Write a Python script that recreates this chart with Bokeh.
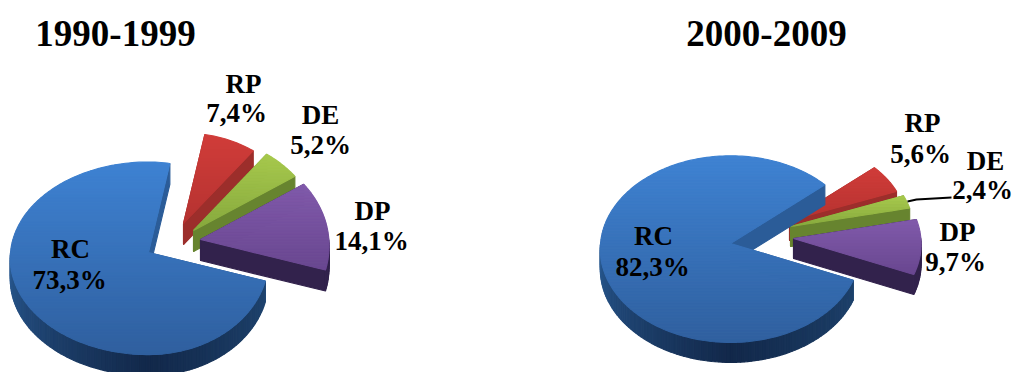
import math
from bokeh.plotting import figure
from bokeh.models import Range1d, ColumnDataSource
from bokeh.core.properties import value
from bokeh.embed import file_html
from bokeh.resources import INLINE

# Share of each category per decade, in percent, in clockwise order
categories = ["RC", "RP", "DE", "DP"]
shares_1990s = [73.3, 7.4, 5.2, 14.1]
shares_2000s = [82.3, 5.6, 2.4, 9.7]
decade_titles = ["1990-1999", "2000-2009"]

# Top-face gradient (top colour, bottom colour), cut-face colour and outer-wall colour
TOP = {"RC": ("#3e82d2", "#2f5f9e"), "DP": ("#8059aa", "#68468f"),
       "DE": ("#a6c84c", "#86a83d"), "RP": ("#d03c39", "#b53230")}
CUT = {"RC": "#2b5c98", "DP": "#32224c", "DE": "#67842f", "RP": "#9c2e2b"}

# Pie geometry: hub position, radii, start bearing, depth, and each slice's offset hub and scale
PIES = [
    dict(shares=shares_1990s, start=107.0, rxl=138, rxr=120, ry=96, depth=21,
         hubs={"RC": (148, 252), "DP": (200, 239), "DE": (193, 230), "RP": (183, 223)},
         scale={"RC": 1.0, "DP": 1.07, "DE": 1.05, "RP": 1.0}),
    dict(shares=shares_2000s, start=112.7, rxl=130, rxr=130, ry=93, depth=20,
         hubs={"RC": (730, 243), "DP": (793, 238), "DE": (790, 226), "RP": (789, 220)},
         scale={"RC": 1.0, "DP": 0.98, "DE": 0.95, "RP": 0.9}),
]
PERSPECTIVE = 0.06


def mix(c1, c2, t):
    t = max(0.0, min(1.0, t))
    a = [int(c1[i:i + 2], 16) for i in (1, 3, 5)]
    b = [int(c2[i:i + 2], 16) for i in (1, 3, 5)]
    return "#%02x%02x%02x" % tuple(round(a[i] + (b[i] - a[i]) * t) for i in range(3))


def rim(pie, name, bearing):
    """Screen offset from a slice's hub of the rim point at a clockwise bearing."""
    r = math.radians(bearing)
    u, v = math.sin(r), math.cos(r)
    s = pie["scale"][name] / (1 + PERSPECTIVE * v)
    rx = pie["rxr"] if u > 0 else pie["rxl"]
    return rx * u * s, -pie["ry"] * v * s


def clip_band(poly, y0, y1):
    """Clip a polygon to the horizontal band y0..y1."""
    def cut(pts, keep, edge):
        out = []
        for i, p in enumerate(pts):
            q = pts[(i + 1) % len(pts)]
            if keep(p):
                out.append(p)
            if keep(p) != keep(q):
                t = (edge - p[1]) / (q[1] - p[1])
                out.append((p[0] + (q[0] - p[0]) * t, edge))
        return out
    pts = cut(poly, lambda p: p[1] >= y0, y0)
    return cut(pts, lambda p: p[1] <= y1, y1) if pts else []


xs, ys, fills = [], [], []


def add(poly, colour):
    xs.append([p[0] for p in poly])
    ys.append([p[1] for p in poly])
    fills.append(colour)


def wall_colour(name, bearing):
    if name == "RC":
        # Lit on the left of the rim, darkest toward the front and right
        b = bearing % 360
        if b >= 180:
            return mix("#12284a", "#2a5c94", (b - 180) / 95)
        return mix("#12284a", "#1f4570", (180 - b) / 75)
    return CUT[name]


def draw_slice(pie, name, a0, a1):
    hx, hy = pie["hubs"][name]
    d = pie["depth"]
    steps = max(2, int((a1 - a0) / 1.5))
    bearings = [a0 + (a1 - a0) * i / steps for i in range(steps + 1)]
    arc = [(hx + rim(pie, name, b)[0], hy + rim(pie, name, b)[1]) for b in bearings]
    hub = (hx, hy)
    low = lambda p: (p[0], p[1] + d)
    # Cut faces first, then the outer wall, then the top face over them
    for p in (arc[0], arc[-1]):
        add([hub, p, low(p), low(hub)], CUT[name])
    for i in range(steps):
        b = (bearings[i] + bearings[i + 1]) / 2
        if 90 < b % 360 < 270:
            add([arc[i], arc[i + 1], low(arc[i + 1]), low(arc[i])], wall_colour(name, b))
    poly = [hub] + arc
    top = min(p[1] for p in poly)
    bottom = max(p[1] for p in poly)
    y = top
    while y < bottom:
        band = clip_band(poly, y, y + 3)
        if len(band) >= 3:
            add(band, mix(*TOP[name], (y - top) / max(bottom - top, 1)))
        y += 3


for pie in PIES:
    angle = pie["start"]
    slices = {}
    for name, share in zip(categories, pie["shares"]):
        sweep = share * 3.6
        slices[name] = (angle, angle + sweep)
        angle += sweep
    for name in ("RP", "DE", "DP", "RC"):
        a0, a1 = slices[name]
        draw_slice(pie, name, a0, a1)

p = figure(width=1015, height=372, output_backend="svg", toolbar_location=None,
           x_range=Range1d(0, 1015), y_range=Range1d(372, 0), min_border=0,
           x_axis_type=None, y_axis_type=None, outline_line_color=None)
p.grid.visible = False
p.background_fill_color = "white"
p.border_fill_color = "white"

src = ColumnDataSource(dict(xs=xs, ys=ys, fill=fills))
p.patches("xs", "ys", source=src, fill_color="fill", line_color="fill", line_width=1.1)

# Leader line for the narrow DE slice of the second pie
p.line([907, 916, 951], [201, 199, 197], line_color="black", line_width=2)


def label(x, base, text, size):
    # Vertically centred on the cap height above the given text base line
    p.text([x], [base - 0.33 * size], text=[text], text_font=value("Liberation Serif"),
           text_font_style="bold", text_font_size=f"{size}px", text_align="center",
           text_baseline="middle", text_color="black")


label(115, 45, decade_titles[0], 37)
label(766, 45, decade_titles[1], 37)

label_rows = [
    (243, 92, "RP"), (236, 121, "7,4%"), (320, 123, "DE"), (320, 153, "5,2%"),
    (372, 219, "DP"), (371, 249, "14,1%"), (70, 257, "RC"), (69, 288, "73,3%"),
    (922, 131, "RP"), (920, 162, "5,6%"), (985, 169, "DE"), (982, 198, "2,4%"),
    (957, 240, "DP"), (955, 270, "9,7%"), (653, 244, "RC"), (652, 275, "82,3%"),
]
for x, y, t in label_rows:
    label(x, y, t, 27)

open("out.html", "w").write(file_html(p, INLINE))
